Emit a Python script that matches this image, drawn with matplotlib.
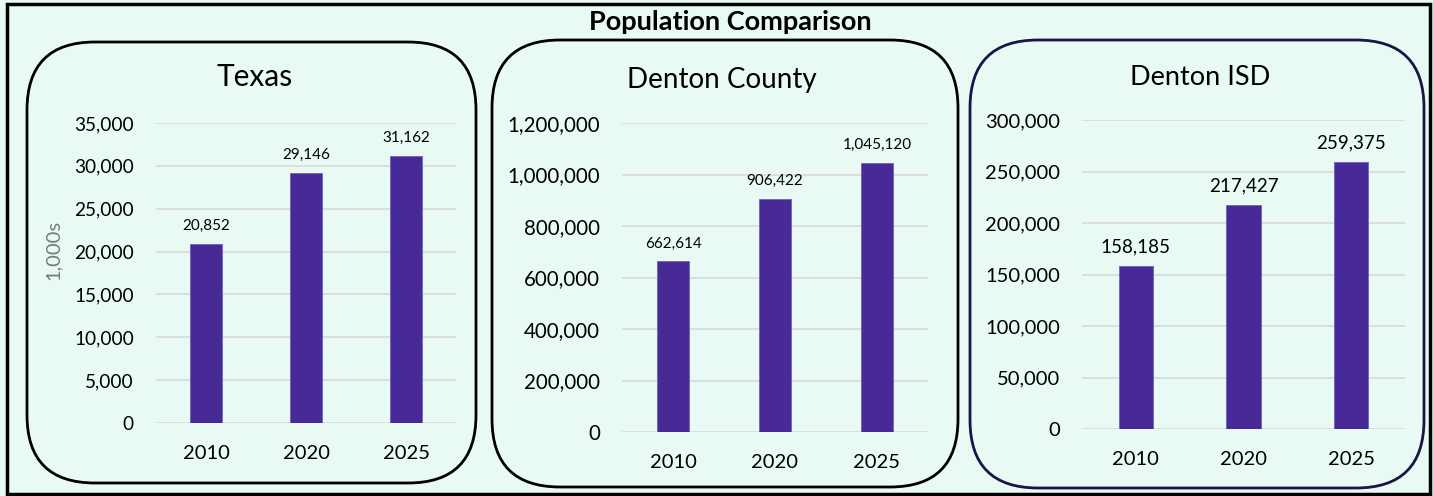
import numpy as np
import matplotlib
matplotlib.use("Agg")
import matplotlib.pyplot as plt
from matplotlib.patches import FancyBboxPatch, Rectangle

plt.rcParams["font.family"] = ["Lato", "DejaVu Sans"]

# ---- data ----
years = ["2010", "2020", "2025"]
texas = [20852, 29146, 31162]
denton_county = [662614, 906422, 1045120]
denton_isd = [158185, 217427, 259375]

W, H = 1433, 496
BG = "#e8faf3"; BAR = "#472a96"; GRID = "#d9d9d9"

fig = plt.figure(figsize=(W/100, H/100), dpi=100, facecolor=BG)

# overlay in pixel coordinates for frame, rounded boxes and titles
ov = fig.add_axes([0, 0, 1, 1], zorder=0)
ov.set_xlim(0, W); ov.set_ylim(H, 0); ov.axis("off")
ov.add_patch(Rectangle((7, 4), 1423, 490, fill=False, ec="black", lw=2.5))
boxes = [(27, 42, 449, 441, "black"), (492, 40, 466, 447, "black"), (970, 40, 454, 448, "#1b1448")]
for x, y, w, h, ec in boxes:
    ov.add_patch(FancyBboxPatch((x, y), w, h, boxstyle="round,pad=0,rounding_size=68",
                                fc="none", ec=ec, lw=2))
ov.text(730, 30, "Population Comparison", ha="center", va="baseline", fontsize=19.5, fontweight="bold")
ov.text(255, 86, "Texas", ha="center", va="baseline", fontsize=21.5)
ov.text(722, 88, "Denton County", ha="center", va="baseline", fontsize=20)
ov.text(1200, 85, "Denton ISD", ha="center", va="baseline", fontsize=19.5)
ov.text(53, 250, "1,000s", ha="center", va="center", rotation=90, fontsize=14.5, color="#7a7a7a")

def px_axes(x0, x1, ytop, ybot):
    return fig.add_axes([x0/W, 1 - ybot/H, (x1 - x0)/W, (ybot - ytop)/H], zorder=1)

panels = [
    (texas, (156, 456, 123, 423), 35000, 5000, 13.7, 11, 0.32),
    (denton_county, (622, 928, 123, 432), 1200000, 200000, 14.8, 11, 0.32),
    (denton_isd, (1082, 1405, 120, 429), 300000, 50000, 14.5, 13.5, 0.32),
]
for vals, (x0, x1, yt, yb), ymax, step, tfs, lfs, bw in panels:
    ax = px_axes(x0, x1, yt, yb)
    ax.set_facecolor("none")
    xs = np.arange(len(years))
    bars = ax.bar(xs, vals, width=bw, color=BAR, edgecolor="#6f5fc4", lw=0.6, zorder=3)
    for b, v in zip(bars, vals):
        ax.annotate(f"{v:,}", (b.get_x() + b.get_width()/2, v), xytext=(0, 10),
                    textcoords="offset points", ha="center", va="baseline", fontsize=lfs)
    ax.set_xlim(-0.5, 2.5); ax.set_ylim(0, ymax)
    ax.set_yticks(np.arange(0, ymax + 1, step))
    ax.set_yticklabels([f"{int(t):,}" for t in np.arange(0, ymax + 1, step)], fontsize=tfs)
    ax.set_xticks(xs); ax.set_xticklabels(years, fontsize=14.5)
    ax.tick_params(axis="y", length=0, pad=16)
    ax.tick_params(axis="x", length=0, pad=16)
    ax.grid(axis="y", color=GRID, lw=1.2, zorder=0)
    for s in ax.spines.values():
        s.set_visible(False)

fig.savefig("out.png", dpi=100, facecolor=BG)
